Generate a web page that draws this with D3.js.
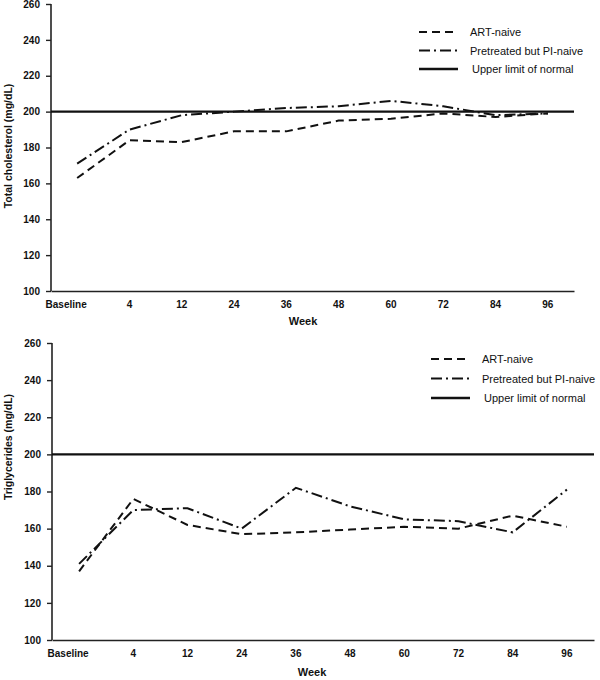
<!DOCTYPE html>
<html><head><meta charset="utf-8">
<script src="https://cdn.jsdelivr.net/npm/d3@7"></script>
<style>body{margin:0;background:#fff;} svg{display:block;font-family:"Liberation Sans",Arial,sans-serif;}</style>
</head><body>
<svg id="c" width="600" height="680"></svg>
<script>
const weeks = ["Baseline","4","12","24","36","48","60","72","84","96"];
const yTicks = [100,120,140,160,180,200,220,240,260];
const upperLimit = 200;
const cholArtNaive = [163,184,183,189,189,195,196,199,197,199];
const cholPretreated = [171,190,198,200,202,203,206,203,198,199];
const trigArtNaive = [137,176,162,157,158,159.5,161,160,167,161];
const trigPretreated = [141,170,171,160,182,172,165,164,158,181];
const legendLabels = ["ART-naive","Pretreated but PI-naive","Upper limit of normal"];
const dashes = ["8,5","11,4,2,4",null];

const svg = d3.select("#c");

function panel(o){
  const g = svg.append("g");
  const x = d3.scaleBand().domain(weeks).range([o.x0,o.x1]);
  const y = d3.scaleLinear().domain([100,260]).range([o.yb,o.yt]);
  const cx = d => x(d)+x.bandwidth()/2;
  // y axis
  const ya = g.append("g").attr("transform",`translate(${o.x0},0)`)
    .call(d3.axisLeft(y).tickValues(yTicks).tickSize(5).tickPadding(6));
  ya.select(".domain").attr("stroke","#222").attr("stroke-width",1.6).attr("d",`M0,${o.yt}V${o.yb}`);
  ya.selectAll(".tick line").attr("stroke","#222").attr("stroke-width",1.4);
  ya.selectAll("text").attr("font-size",10).attr("font-weight","bold").attr("fill","#111");
  // x axis
  const xa = g.append("g").attr("transform",`translate(0,${o.yb})`)
    .call(d3.axisBottom(x).tickSize(0).tickPadding(10));
  xa.select(".domain").attr("stroke","#222").attr("stroke-width",1.6);
  xa.selectAll("text").attr("font-size",10).attr("font-weight","bold").attr("fill","#111")
    .attr("dx",d=>d==="Baseline"?-11:0);
  // titles
  g.append("text").attr("x",o.weekX).attr("y",o.weekY).attr("text-anchor","middle")
    .attr("font-size",11).attr("font-weight","bold").attr("fill","#111").text("Week");
  g.append("text").attr("transform",`translate(12,${o.titleY}) rotate(-90)`).attr("text-anchor","middle")
    .attr("font-size",10.5).attr("font-weight","bold").attr("fill","#111").text(o.title);
  // upper limit
  g.append("line").attr("x1",o.x0).attr("x2",o.x1).attr("y1",y(upperLimit)).attr("y2",y(upperLimit))
    .attr("stroke","#111").attr("stroke-width",2.2);
  const line = d3.line().x((d,i)=>cx(weeks[i])).y(d=>y(d));
  [o.a,o.b].forEach((s,k)=>{
    g.append("path").datum(s).attr("d",line).attr("fill","none").attr("stroke","#111")
      .attr("stroke-width",2).attr("stroke-dasharray",dashes[k]);
  });
  // legend
  legendLabels.forEach((l,i)=>{
    const ly = o.ly + i*o.ld;
    g.append("line").attr("x1",o.lx).attr("x2",o.lx+39).attr("y1",ly).attr("y2",ly)
      .attr("stroke","#111").attr("stroke-width",i===2?2.6:2.2).attr("stroke-dasharray",dashes[i]);
    g.append("text").attr("x",o.lx+51+(i===2?2:0)).attr("y",ly+4).attr("font-size",11).attr("fill","#111").text(l);
  });
}

panel({x0:51,x1:574,yt:4,yb:291,a:cholArtNaive,b:cholPretreated,title:"Total cholesterol (mg/dL)",
  titleY:146,weekX:303,weekY:325,lx:419,ly:32,ld:18.5});
panel({x0:52,x1:594,yt:343,yb:640,a:trigArtNaive,b:trigPretreated,title:"Triglycerides (mg/dL)",
  titleY:447,weekX:312,weekY:676,lx:431,ly:359,ld:19.5});
</script>
</body></html>
